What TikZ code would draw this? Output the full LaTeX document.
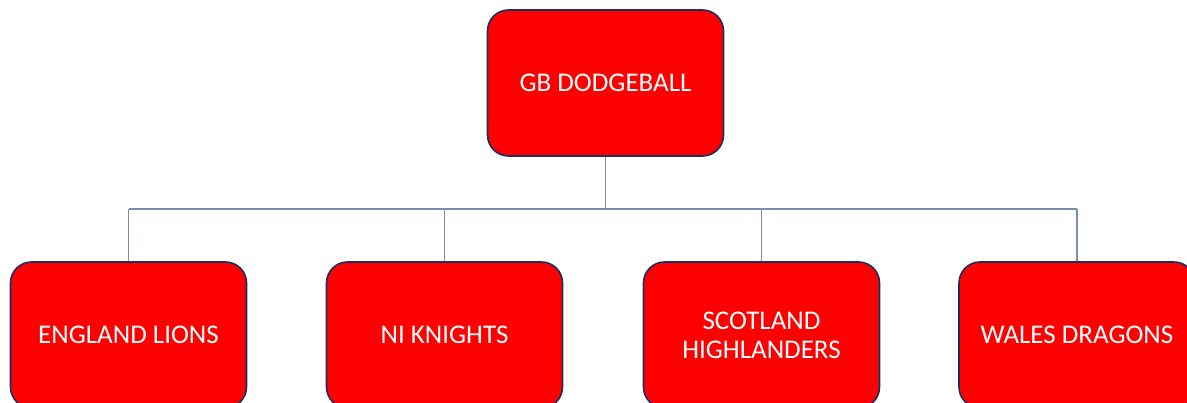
\documentclass[tikz,border=0pt]{standalone}
\usepackage{fontspec}
\setmainfont{Carlito}
\definecolor{boxred}{RGB}{255,0,0}
\definecolor{boxedge}{RGB}{28,45,95}
\definecolor{linkcol}{RGB}{125,140,175}
\begin{document}
\begin{tikzpicture}[x=1pt,y=-1pt,
  unit/.style={draw=boxedge,line width=1.6pt,fill=boxred,rounded corners=21pt,
    minimum width=236pt,minimum height=146pt,inner sep=0pt,
    text=white,font=\fontsize{27}{29}\selectfont,align=center},
  link/.style={draw=linkcol,line width=1.2pt}]
\useasboundingbox (0,0) rectangle (1187,403);
\node[unit] (gb) at (605.5,83) {GB DODGEBALL};
\node[unit] (eng) at (128.5,335) {ENGLAND LIONS};
\node[unit] (ni) at (444.5,335) {NI KNIGHTS};
\node[unit] (sco) at (761.5,335) {SCOTLAND\\HIGHLANDERS};
\node[unit] (wal) at (1077,335) {WALES DRAGONS};
\coordinate (bus) at (0,209);
\draw[link] (gb.south) -- (gb.south |- bus);
\draw[link] (eng.north |- bus) -- (wal.north |- bus);
\draw[link] (eng.north) -- (eng.north |- bus);
\draw[link] (ni.north) -- (ni.north |- bus);
\draw[link] (sco.north) -- (sco.north |- bus);
\draw[link] (wal.north) -- (wal.north |- bus);
\end{tikzpicture}
\end{document}
